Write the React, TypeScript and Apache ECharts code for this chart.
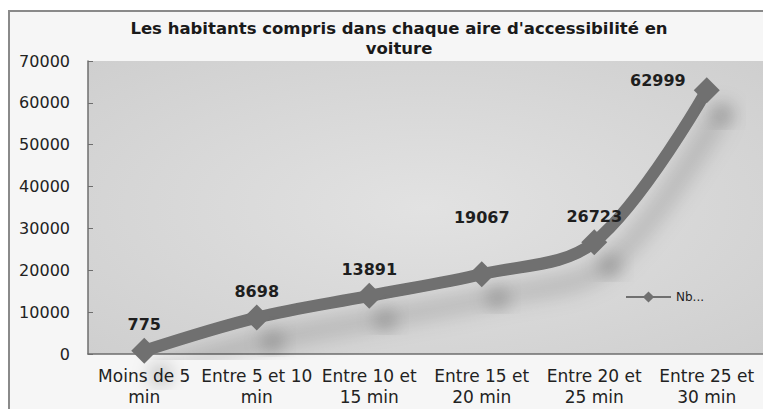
import React, { useEffect, useRef } from "react";
import * as echarts from "echarts";

const categories = [
  "Moins de 5\nmin",
  "Entre 5 et 10\nmin",
  "Entre 10 et\n15 min",
  "Entre 15 et\n20 min",
  "Entre 20 et\n25 min",
  "Entre 25 et\n30 min",
];
const values = [775, 8698, 13891, 19067, 26723, 62999];
const seriesName = "Nb...";
const titleText = "Les habitants compris dans chaque aire d'accessibilité en\nvoiture";

export default function App() {
  const ref = useRef<HTMLDivElement>(null);
  useEffect(() => {
    if (!ref.current) return;
    const chart = echarts.init(ref.current, undefined, { renderer: "svg" });
    const font = "'DejaVu Sans', sans-serif";
    chart.setOption({
      animation: false,
      backgroundColor: "#ffffff",
      graphic: [
        {
          type: "rect",
          shape: { x: 9, y: 11, width: 770, height: 420 },
          style: { fill: "#f6f6f6", stroke: "#8a8a8a", lineWidth: 2 },
          z: -10,
          silent: true,
        },
      ],
      title: {
        text: titleText,
        left: 394,
        textAlign: "center",
        top: 13,
        textStyle: {
          fontFamily: font,
          fontSize: 16.5,
          fontWeight: "bold",
          color: "#1a1a1a",
          lineHeight: 20,
        },
      },
      legend: {
        left: 620,
        top: 286,
        itemWidth: 45,
        itemHeight: 14,
        itemGap: 4,
        data: [seriesName],
        textStyle: { fontFamily: font, fontSize: 12, color: "#222" },
      },
      grid: {
        left: 88,
        right: -7,
        top: 61,
        bottom: 55,
        show: true,
        borderWidth: 0,
        backgroundColor: {
          type: "radial",
          x: 0.5,
          y: 0.5,
          r: 0.7,
          colorStops: [
            { offset: 0, color: "#e2e2e2" },
            { offset: 1, color: "#cfcfcf" },
          ],
        },
      },
      xAxis: {
        type: "category",
        data: categories,
        boundaryGap: true,
        axisLine: { lineStyle: { color: "#6e6e6e", width: 1.5 } },
        axisTick: { inside: true, length: 5, lineStyle: { color: "#6e6e6e" } },
        axisLabel: {
          fontFamily: font,
          fontSize: 17,
          color: "#222",
          lineHeight: 21,
          margin: 11,
          interval: 0,
        },
      },
      yAxis: {
        type: "value",
        min: 0,
        max: 70000,
        interval: 10000,
        splitLine: { show: false },
        axisLine: { show: true, lineStyle: { color: "#6e6e6e", width: 1.5 } },
        axisTick: { show: true, inside: true, length: 5, lineStyle: { color: "#6e6e6e" } },
        axisLabel: {
          fontFamily: font,
          fontSize: 16,
          color: "#222",
          margin: 18,
          formatter: (v: number) => String(v),
        },
      },
      series: [
        {
          name: seriesName,
          type: "line",
          smooth: 0.35,
          data: values.map((v, i) => ({
            value: v,
            label:
              i === 5
                ? { position: "left", distance: 8, offset: [0, -10] }
                : i === 3
                ? { position: "top", distance: 36 }
                : { position: "top", distance: 5 },
          })),
          symbol: "diamond",
          symbolSize: 26,
          itemStyle: {
            color: "#707070",
            shadowColor: "rgba(0,0,0,0.25)",
            shadowBlur: 18,
            shadowOffsetX: 16,
            shadowOffsetY: 24,
          },
          lineStyle: {
            color: "#707070",
            width: 12,
            shadowColor: "rgba(0,0,0,0.25)",
            shadowBlur: 22,
            shadowOffsetX: 14,
            shadowOffsetY: 22,
          },
          label: {
            show: true,
            fontFamily: font,
            fontSize: 16,
            fontWeight: "bold",
            color: "#1e1e1e",
          },
        },
      ],
    });
    return () => chart.dispose();
  }, []);
  return <div ref={ref} style={{ width: 763, height: 409, position: "absolute", left: 0, top: 0 }} />;
}
